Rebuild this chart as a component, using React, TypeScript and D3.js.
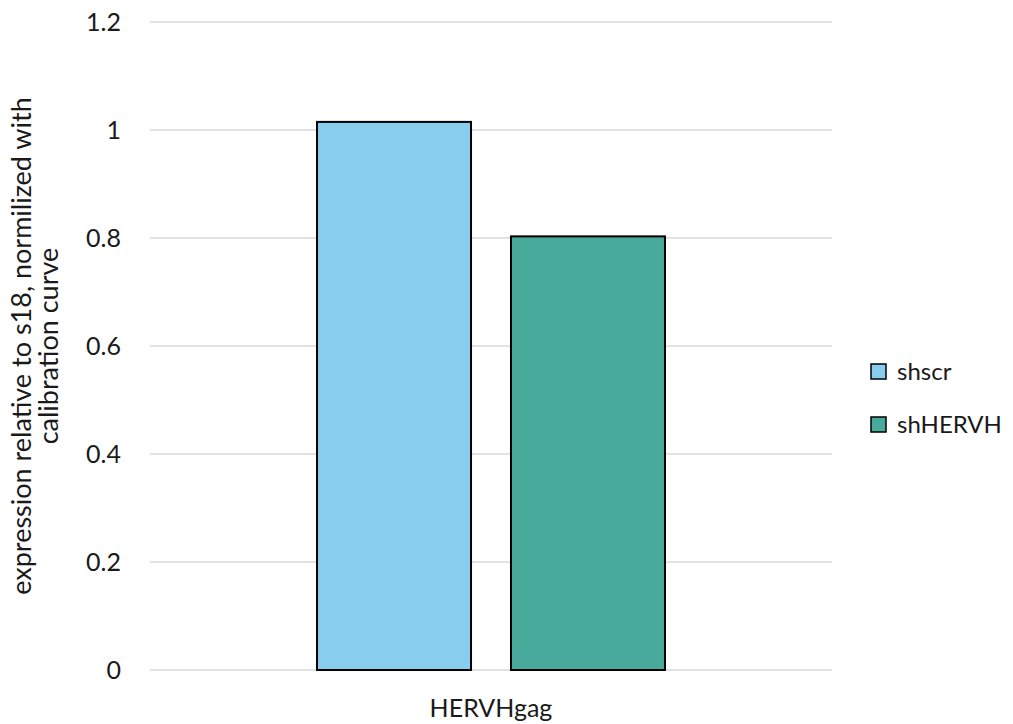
import React from "react";
import * as d3 from "d3";

const categories = ["HERVHgag"];
const seriesNames = ["shscr", "shHERVH"];
const seriesValues = [[1.015], [0.803]];
const seriesColors = ["#89CDEE", "#47AA9A"];
const yTicks = [0, 0.2, 0.4, 0.6, 0.8, 1, 1.2];
const yTitleLines = ["expression relative to s18, normilized with", "calibration curve"];

const W = 1013;
const H = 724;
const plot = { left: 150, right: 832, top: 22, bottom: 670 };
const font = "Lato, 'Open Sans', sans-serif";

export default function App() {
  const y = d3.scaleLinear().domain([0, 1.2]).range([plot.bottom, plot.top]);
  const x0 = d3.scaleBand().domain(categories).range([plot.left, plot.right]).paddingInner(0).paddingOuter(0.48);
  const x1 = d3.scaleBand().domain(seriesNames).range([0, x0.bandwidth()]).paddingInner(0.206);

  return (
    <svg width={W} height={H} style={{ position: "absolute", left: 0, top: 0, background: "#fff" }} fontFamily={font}>
      {yTicks.map((t) => (
        <g key={t}>
          <line x1={plot.left} x2={plot.right} y1={y(t)} y2={y(t)} stroke="#d9d9d9" strokeWidth={1.5} />
          <text x={121} y={y(t)} dy="0.35em" textAnchor="end" fontSize={25} fill="#1a1a1a">
            {d3.format("~g")(t)}
          </text>
        </g>
      ))}
      {categories.map((c, ci) => (
        <g key={c} transform={`translate(${x0(c)},0)`}>
          {seriesNames.map((s, si) => (
            <rect
              key={s}
              x={x1(s)}
              y={y(seriesValues[si][ci])}
              width={x1.bandwidth()}
              height={y(0) - y(seriesValues[si][ci])}
              fill={seriesColors[si]}
              stroke="#000"
              strokeWidth={2}
            />
          ))}
          <text x={x0.bandwidth() / 2} y={717} textAnchor="middle" fontSize={25} fill="#1a1a1a">
            {c}
          </text>
        </g>
      ))}
      <text transform={`translate(31,${(plot.top + plot.bottom) / 2}) rotate(-90)`} textAnchor="middle" fontSize={27} fill="#1a1a1a">
        {yTitleLines.map((l, i) => (
          <tspan key={i} x={0} dy={i === 0 ? 0 : 27}>
            {l}
          </tspan>
        ))}
      </text>
      {seriesNames.map((s, i) => (
        <g key={s} transform={`translate(871,${372 + i * 53})`}>
          <rect x={0} y={-8} width={15} height={15} fill={seriesColors[i]} stroke="#000" strokeWidth={1.5} />
          <text x={26} y={0} dy="0.35em" fontSize={24} fill="#1a1a1a">
            {s}
          </text>
        </g>
      ))}
    </svg>
  );
}
